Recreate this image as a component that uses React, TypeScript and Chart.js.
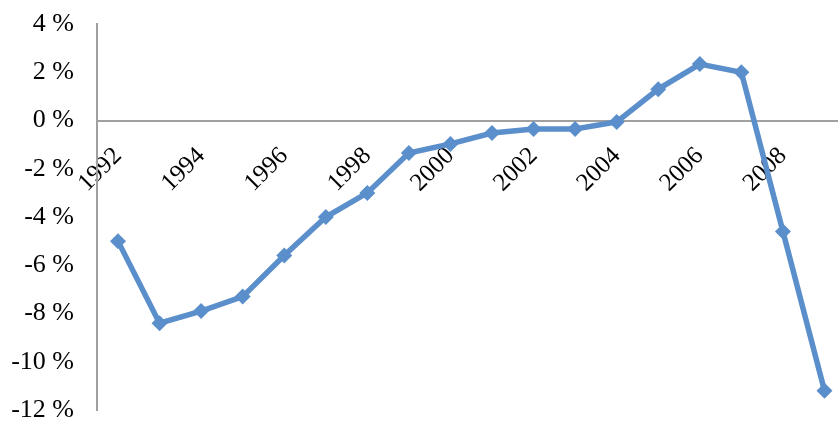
import React, { useEffect, useRef } from "react";
import { Chart, registerables } from "chart.js";

Chart.register(...registerables);

// Annual change, in percent
const years = [1992, 1993, 1994, 1995, 1996, 1997, 1998, 1999, 2000, 2001, 2002, 2003, 2004, 2005, 2006, 2007, 2008, 2009];
const changePct = [-5.0, -8.4, -7.9, -7.3, -5.6, -4.0, -3.0, -1.35, -0.97, -0.52, -0.35, -0.35, -0.06, 1.3, 2.34, 2.0, -4.6, -11.2];
const yearTicks = [1992, 1994, 1996, 1998, 2000, 2002, 2004, 2006, 2008];
const pctTicks = [-12, -10, -8, -6, -4, -2, 0, 2, 4];

const LINE_COLOR = "#5B8FCB";
const AXIS_COLOR = "#A0A0A0";
const SERIF = "'Liberation Serif', 'Times New Roman', serif";

export default function App() {
  const canvasRef = useRef<HTMLCanvasElement | null>(null);

  useEffect(() => {
    if (!canvasRef.current) return;
    const chart = new Chart(canvasRef.current, {
      type: "line",
      data: {
        datasets: [
          {
            data: years.map((y, i) => ({ x: y, y: changePct[i] })),
            borderColor: LINE_COLOR,
            backgroundColor: LINE_COLOR,
            borderWidth: 5.5,
            pointStyle: "rectRot",
            pointRadius: 8,
            pointBorderWidth: 0,
            tension: 0,
            clip: false,
          },
        ],
      },
      options: {
        animation: false,
        responsive: false,
        layout: { autoPadding: false, padding: { top: 24, bottom: 15, left: 0, right: 0 } },
        plugins: { legend: { display: false }, tooltip: { enabled: false } },
        scales: {
          x: {
            type: "linear",
            position: { y: 0 },
            min: 1991.495,
            max: 2009.325,
            grid: { display: false },
            border: { display: true, color: AXIS_COLOR, width: 2 },
            afterBuildTicks: (scale: any) => {
              scale.ticks = yearTicks.map((v) => ({ value: v }));
            },
            afterFit: (scale: any) => {
              scale.height = 0;
              scale.paddingLeft = 0;
              scale.paddingRight = 0;
              scale.paddingTop = 0;
              scale.paddingBottom = 0;
            },
            ticks: {
              color: "#000",
              font: { family: SERIF, size: 25 },
              minRotation: 45,
              maxRotation: 45,
              padding: 13,
              callback: (v: any) => String(v),
            },
          },
          y: {
            type: "linear",
            min: -12,
            max: 4,
            grid: { display: false },
            border: { display: true, color: AXIS_COLOR, width: 2 },
            afterBuildTicks: (scale: any) => {
              scale.ticks = pctTicks.map((v) => ({ value: v }));
            },
            afterFit: (scale: any) => {
              scale.width = 97;
              scale.paddingTop = 0;
              scale.paddingBottom = 0;
            },
            ticks: {
              color: "#000",
              font: { family: SERIF, size: 26 },
              padding: 15,
              callback: (v: any) => `${v} %`,
            },
          },
        },
      },
    });
    return () => chart.destroy();
  }, []);

  return (
    <div style={{ position: "absolute", left: 0, top: 0, width: 838, height: 425, background: "#fff" }}>
      <canvas ref={canvasRef} width={838} height={425} />
    </div>
  );
}
